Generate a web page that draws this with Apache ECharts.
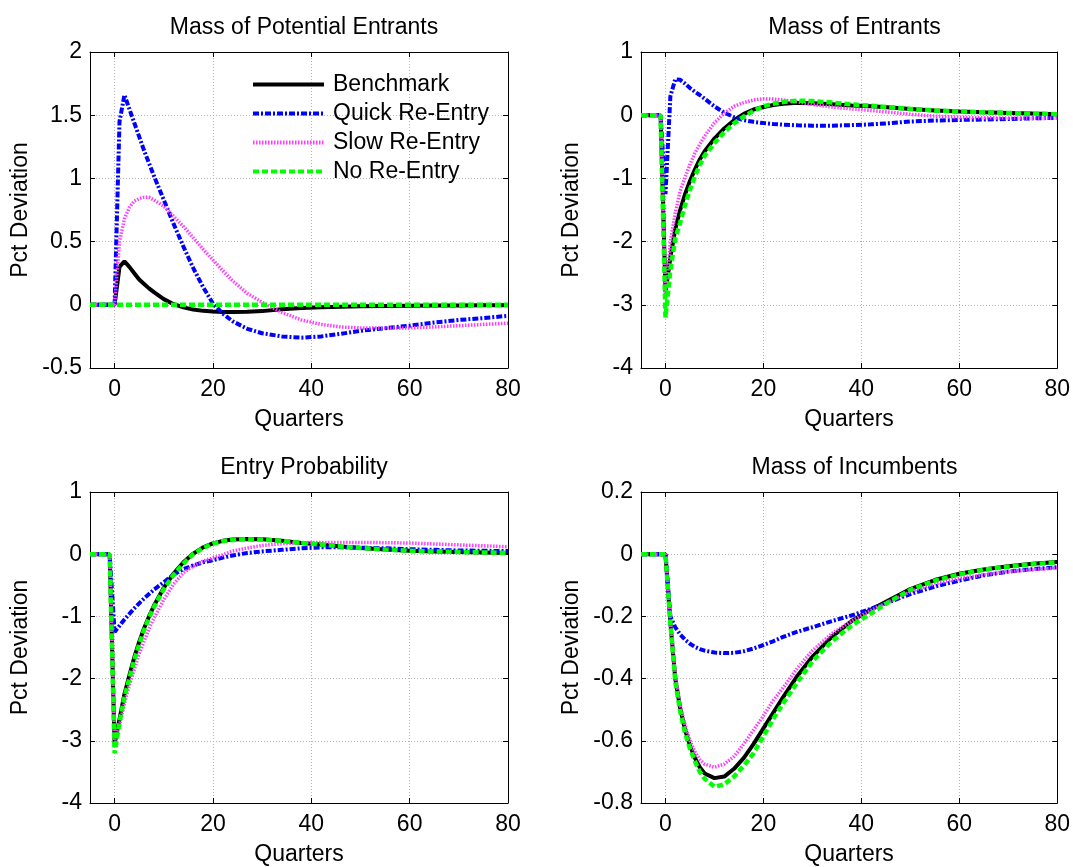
<!DOCTYPE html>
<html>
<head>
<meta charset="utf-8">
<script src="https://cdn.jsdelivr.net/npm/echarts@6/dist/echarts.min.js"></script>
<style>
  html, body { margin: 0; padding: 0; background: #fff; }
  #chart { width: 1073px; height: 867px; }
</style>
</head>
<body>
<div id="chart"></div>
<script>
// quarters after the shock (shared x values for every series)
const quarters = [-5, -1, 0, 1, 2, 3, 4, 5, 6, 7, 8, 10, 12, 14, 16, 18, 20, 22, 24, 27, 30, 34, 38, 42, 46, 50, 55, 60, 65, 70, 75, 80];
const xTicks = [0, 20, 40, 60, 80];
const seriesNames = ["Benchmark", "Quick Re-Entry", "Slow Re-Entry", "No Re-Entry"];
const panelTitles = ["Mass of Potential Entrants", "Mass of Entrants", "Entry Probability", "Mass of Incumbents"];

// Mass of Potential Entrants
const potBench = [0, 0, 0, 0.30, 0.345, 0.30, 0.25, 0.20, 0.165, 0.13, 0.10, 0.045, 0.005, -0.02, -0.038, -0.048, -0.053, -0.056, -0.057, -0.055, -0.05, -0.035, -0.025, -0.02, -0.015, -0.012, -0.01, -0.008, -0.006, -0.005, -0.004, -0.003];
const potQuick = [0, 0, 0, 1.45, 1.66, 1.55, 1.44, 1.33, 1.22, 1.12, 1.02, 0.83, 0.64, 0.46, 0.29, 0.14, 0.01, -0.07, -0.13, -0.19, -0.225, -0.25, -0.26, -0.25, -0.23, -0.205, -0.185, -0.165, -0.14, -0.12, -0.105, -0.087];
const potSlow = [0, 0, 0, 0.5, 0.68, 0.77, 0.82, 0.84, 0.85, 0.85, 0.83, 0.78, 0.70, 0.62, 0.53, 0.44, 0.355, 0.27, 0.19, 0.09, 0.02, -0.06, -0.12, -0.155, -0.175, -0.183, -0.185, -0.183, -0.175, -0.165, -0.155, -0.145];
const potNone = [0, 0, 0, 0, 0, 0, 0, 0, 0, 0, 0, 0, 0, 0, 0, 0, 0, 0, 0, 0, 0, 0, 0, 0, 0, 0, 0, 0, 0, 0, 0, 0];

// Mass of Entrants
const entBench = [0, 0, -2.8, -2.25, -1.8, -1.5, -1.25, -1.04, -0.86, -0.7, -0.57, -0.37, -0.21, -0.08, 0.02, 0.09, 0.13, 0.16, 0.18, 0.195, 0.19, 0.175, 0.155, 0.14, 0.12, 0.1, 0.075, 0.058, 0.045, 0.035, 0.025, 0.016];
const entQuick = [0, 0, -1.25, 0.3, 0.57, 0.56, 0.5, 0.43, 0.37, 0.32, 0.26, 0.14, 0.04, -0.03, -0.08, -0.105, -0.125, -0.14, -0.15, -0.16, -0.165, -0.165, -0.157, -0.145, -0.125, -0.1, -0.085, -0.075, -0.068, -0.06, -0.05, -0.042];
const entSlow = [0, 0, -2.9, -2.0, -1.55, -1.2, -0.98, -0.78, -0.6, -0.46, -0.33, -0.12, 0.03, 0.14, 0.2, 0.24, 0.26, 0.255, 0.24, 0.21, 0.17, 0.13, 0.1, 0.075, 0.045, 0.015, -0.015, -0.03, -0.04, -0.045, -0.047, -0.047];
const entNone = [0, 0, -3.2, -2.45, -1.95, -1.7, -1.42, -1.18, -0.97, -0.79, -0.64, -0.44, -0.27, -0.13, -0.02, 0.07, 0.14, 0.18, 0.21, 0.23, 0.225, 0.2, 0.17, 0.15, 0.125, 0.1, 0.075, 0.058, 0.045, 0.035, 0.025, 0.016];

// Entry Probability
const probBench = [0, 0, -3.05, -2.65, -2.25, -1.95, -1.66, -1.41, -1.19, -1.0, -0.83, -0.54, -0.31, -0.13, 0.01, 0.11, 0.175, 0.215, 0.235, 0.245, 0.24, 0.215, 0.18, 0.155, 0.125, 0.1, 0.075, 0.055, 0.045, 0.035, 0.028, 0.02];
const probQuick = [0, 0, -1.25, -1.15, -1.05, -0.96, -0.87, -0.79, -0.71, -0.64, -0.57, -0.45, -0.33, -0.24, -0.18, -0.13, -0.095, -0.055, -0.02, 0.02, 0.045, 0.07, 0.095, 0.11, 0.11, 0.105, 0.095, 0.08, 0.07, 0.06, 0.055, 0.05];
const probSlow = [0, 0, -3.0, -2.75, -2.4, -2.1, -1.85, -1.6, -1.4, -1.2, -1.03, -0.73, -0.48, -0.3, -0.19, -0.11, -0.06, -0.01, 0.05, 0.1, 0.14, 0.17, 0.185, 0.19, 0.19, 0.19, 0.185, 0.18, 0.165, 0.15, 0.135, 0.12];
const probNone = [0, 0, -3.2, -2.7, -2.3, -2.0, -1.7, -1.45, -1.22, -1.02, -0.85, -0.56, -0.33, -0.15, 0.0, 0.1, 0.17, 0.21, 0.23, 0.24, 0.235, 0.215, 0.18, 0.155, 0.125, 0.1, 0.075, 0.055, 0.045, 0.035, 0.028, 0.02];

// Mass of Incumbents
const incBench = [0, 0, 0, -0.22, -0.4, -0.495, -0.565, -0.615, -0.655, -0.685, -0.705, -0.72, -0.715, -0.69, -0.655, -0.61, -0.56, -0.51, -0.46, -0.39, -0.33, -0.265, -0.215, -0.178, -0.145, -0.112, -0.083, -0.063, -0.049, -0.039, -0.031, -0.025];
const incQuick = [0, 0, 0, -0.2, -0.235, -0.258, -0.275, -0.288, -0.298, -0.305, -0.31, -0.316, -0.318, -0.317, -0.312, -0.303, -0.292, -0.28, -0.266, -0.249, -0.235, -0.215, -0.197, -0.175, -0.152, -0.128, -0.104, -0.085, -0.068, -0.056, -0.048, -0.042];
const incSlow = [0, 0, 0, -0.22, -0.39, -0.485, -0.55, -0.6, -0.635, -0.66, -0.675, -0.685, -0.675, -0.65, -0.61, -0.565, -0.52, -0.47, -0.43, -0.365, -0.31, -0.255, -0.215, -0.18, -0.15, -0.12, -0.095, -0.078, -0.066, -0.056, -0.05, -0.044];
const incNone = [0, 0, 0, -0.22, -0.41, -0.505, -0.575, -0.625, -0.665, -0.7, -0.722, -0.748, -0.74, -0.715, -0.68, -0.64, -0.585, -0.53, -0.48, -0.41, -0.345, -0.28, -0.23, -0.19, -0.15, -0.115, -0.085, -0.065, -0.05, -0.04, -0.032, -0.026];

const panelData = [
    [potBench, potQuick, potSlow, potNone],
    [entBench, entQuick, entSlow, entNone],
    [probBench, probQuick, probSlow, probNone],
    [incBench, incQuick, incSlow, incNone],
];
// y ranges: [min, max, step]
const yRanges = [[-0.5, 2, 0.5], [-4, 1, 1], [-4, 1, 1], [-0.8, 0.2, 0.2]];

const FONT = "Liberation Sans, Arial, sans-serif";
const FS = 23;
const lineStyles = [
    { color: "#000000", width: 4, type: "solid" },
    { color: "#0000ff", width: 4, type: [6, 2, 2, 2] },
    { color: "#ff3cff", width: 3.5, type: [1.5, 1.5] },
    { color: "#00ff00", width: 4.5, type: [6, 3] },
];

const grids = [
    { left: 90, top: 52, width: 418, height: 316 },
    { left: 641, top: 52, width: 417, height: 316 },
    { left: 90, top: 492, width: 418, height: 316 },
    { left: 641, top: 492, width: 417, height: 316 },
];

const gridLine = { show: true, lineStyle: { color: "#b4b4b4", type: [1, 2], width: 1 } };
const boxLine = { show: true, onZero: false, lineStyle: { color: "#000", width: 1 } };
const tick = { show: true, inside: true, length: 5, lineStyle: { color: "#000" } };

const xAxes = [];
const yAxes = [];
const series = [];
const titles = [];

grids.forEach((g, i) => {
    const [ymin, ymax, ystep] = yRanges[i];
    // bottom axis with labels and grid
    xAxes.push({
        type: "value", gridIndex: i, min: -5, max: 80, position: "bottom",
        name: "Quarters", nameLocation: "middle", nameGap: 40,
        nameTextStyle: { fontSize: FS, color: "#000", fontFamily: FONT },
        axisLine: boxLine,
        axisTick: Object.assign({ customValues: xTicks }, tick),
        axisLabel: { fontSize: FS, color: "#000", fontFamily: FONT, margin: 10, customValues: xTicks },
        splitLine: gridLine,
    });
    // top axis, ticks only
    xAxes.push({
        type: "value", gridIndex: i, min: -5, max: 80, position: "top",
        axisLine: boxLine,
        axisTick: Object.assign({ customValues: xTicks }, tick),
        axisLabel: { show: false },
        splitLine: { show: false },
    });
    yAxes.push({
        type: "value", gridIndex: i, min: ymin, max: ymax, interval: ystep, position: "left",
        name: "Pct Deviation", nameLocation: "middle", nameGap: 58, nameRotate: 90,
        nameTextStyle: { fontSize: FS, color: "#000", fontFamily: FONT },
        axisLine: boxLine,
        axisTick: tick,
        axisLabel: { fontSize: FS, color: "#000", fontFamily: FONT, margin: 8 },
        splitLine: gridLine,
    });
    yAxes.push({
        type: "value", gridIndex: i, min: ymin, max: ymax, interval: ystep, position: "right",
        axisLine: boxLine,
        axisTick: tick,
        axisLabel: { show: false },
        splitLine: { show: false },
    });
    titles.push({
        text: panelTitles[i],
        left: g.left + g.width / 2, top: g.top - 41, textAlign: "center",
        textStyle: { fontSize: FS, fontWeight: "normal", color: "#000", fontFamily: FONT },
    });
    panelData[i].forEach((vals, k) => {
        series.push({
            name: seriesNames[k],
            type: "line",
            xAxisIndex: 2 * i,
            yAxisIndex: 2 * i,
            data: quarters.map((q, j) => [q, vals[j]]),
            showSymbol: false,
            symbol: "none",
            lineStyle: lineStyles[k],
            itemStyle: { color: lineStyles[k].color },
            silent: true,
            animation: false,
        });
    });
});

const chart = echarts.init(document.getElementById("chart"), null, { renderer: "canvas" });
chart.setOption({
    animation: false,
    backgroundColor: "#ffffff",
    title: titles,
    grid: grids,
    xAxis: xAxes,
    yAxis: yAxes,
    legend: {
        data: seriesNames,
        orient: "vertical",
        left: 246, top: 68,
        itemWidth: 71, itemHeight: 14, itemGap: 6,
        itemStyle: { opacity: 0 },
        lineStyle: { width: 4 },
        textStyle: { fontSize: FS, color: "#000", fontFamily: FONT, lineHeight: 23, padding: [0, 0, 0, 4] },
        selectedMode: false,
    },
    series: series,
});
</script>
</body>
</html>
